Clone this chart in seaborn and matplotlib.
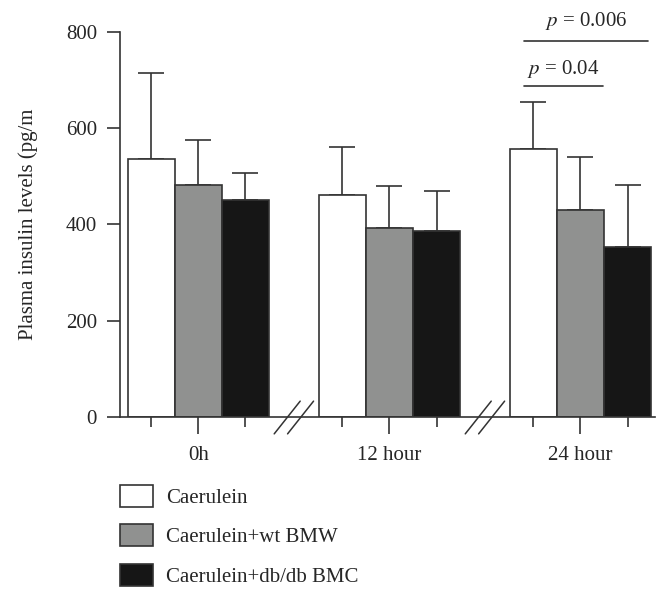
import pandas as pd
import seaborn as sns
import matplotlib.pyplot as plt
from matplotlib.patches import Patch

# values (mean and upper error)
times = ['0h', '12 hour', '24 hour']
groups = ['Caerulein', 'Caerulein+wt BMW', 'Caerulein+db/db BMC']
caerulein = [537, 462, 557]
wt_bmw = [482, 392, 430]
dbdb_bmc = [450, 387, 353]
caerulein_err = [177, 100, 97]
wt_bmw_err = [94, 88, 111]
dbdb_bmc_err = [57, 83, 129]

colors = ['#ffffff', '#909190', '#161616']
edge = '#333333'

rows = []
for g, vals, errs in zip(groups, [caerulein, wt_bmw, dbdb_bmc],
                         [caerulein_err, wt_bmw_err, dbdb_bmc_err]):
    for t, v, e in zip(times, vals, errs):
        rows.append({'time': t, 'group': g, 'value': v, 'err': e})
data = pd.DataFrame(rows)

sns.set_style('ticks')
plt.rcParams['font.family'] = ['Liberation Serif', 'DejaVu Serif']
plt.rcParams['mathtext.fontset'] = 'stix'
fs = 15

fig = plt.figure(figsize=(6.58, 5.9), dpi=100)
ax = fig.add_axes([0.1824, 0.2932, 0.813, 0.6526])

width = 0.74
sns.barplot(data=data, x='time', y='value', hue='group', hue_order=groups,
            palette=colors, saturation=1, width=width, errorbar=None,
            edgecolor=edge, linewidth=1.2, legend=False, ax=ax)

# upward-only error bars on each bar
for cont, g in zip(ax.containers, groups):
    sub = data[data.group == g]
    xs = [b.get_x() + b.get_width() / 2 for b in cont]
    ax.errorbar(xs, sub['value'], yerr=[[0] * len(xs), sub['err']],
                fmt='none', ecolor=edge, elinewidth=1.2, capsize=9.4,
                capthick=1.2, zorder=0)

ax.set_ylim(0, 800)
ax.set_yticks([0, 200, 400, 600, 800])
ax.set_xlim(-0.41, 2.39)
ax.set_xlabel('')
ax.set_ylabel('Plasma insulin levels (pg/m', fontsize=fs, labelpad=20)
sns.despine(ax=ax)
for s in ['left', 'bottom']:
    ax.spines[s].set_color(edge)
    ax.spines[s].set_linewidth(1.2)

bw = width / 3
ax.set_xticks(range(3))
ax.set_xticks([i + d for i in range(3) for d in (-bw, bw)], minor=True)
ax.tick_params(axis='x', which='major', length=12, width=1.2, color=edge,
               labelsize=fs, pad=9)
ax.tick_params(axis='x', which='minor', length=7, width=1.2, color=edge)
ax.tick_params(axis='y', length=9.5, width=1.2, color=edge, labelsize=fs, pad=7)

# axis break marks between groups
for m in [0.5, 1.5]:
    for off in (-0.035, 0.035):
        ax.plot([m + off - 0.068, m + off + 0.068], [-35, 33], color=edge,
                lw=1.1, clip_on=False)

# significance lines
ax.plot([1.707, 2.356], [782, 782], color=edge, lw=1.2, clip_on=False)
ax.plot([1.707, 2.12], [687, 687], color=edge, lw=1.2, clip_on=False)
ax.text(2.03, 823, '$p$ = 0.006', ha='center', va='center', fontsize=fs)
ax.text(1.91, 723, '$p$ = 0.04', ha='center', va='center', fontsize=fs)

handles = [Patch(facecolor=c, edgecolor=edge, linewidth=1.2) for c in colors]
fig.legend(handles, groups, loc='upper left', bbox_to_anchor=(120 / 658, 1 - 485 / 590),
           frameon=False, fontsize=fs, handlelength=1.6, handleheight=1.25,
           labelspacing=0.78, handletextpad=0.6, borderpad=0, borderaxespad=0)

fig.savefig('out.png', dpi=100)
